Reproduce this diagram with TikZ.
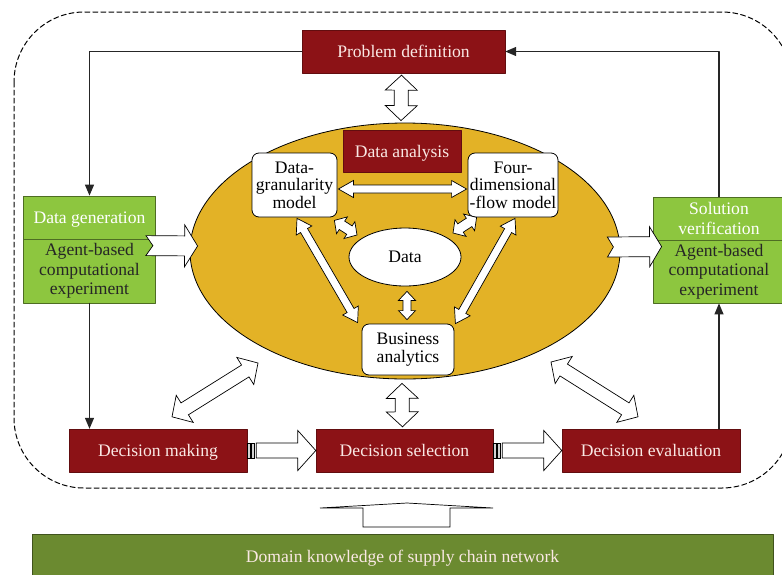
\documentclass[tikz,border=0pt]{standalone}
\usepackage{fontspec}
\setmainfont{Liberation Serif}
\usetikzlibrary{arrows.meta,calc,shapes.geometric}

\definecolor{darkred}{RGB}{140,18,22}
\definecolor{leafgreen}{RGB}{141,198,63}
\definecolor{gold}{RGB}{227,178,38}
\definecolor{olive}{RGB}{107,138,48}
\definecolor{paletext}{RGB}{250,232,228}

% #1 half shaft, #2 half head, #3 head length, #4 from, #5 to
\newcommand{\dblarrow}[5]{%
  \draw[blockarrow] let \p1=(#4), \p2=(#5), \n1={atan2(\y2-\y1,\x2-\x1)}, \n2={veclen(\x2-\x1,\y2-\y1)} in
    [shift={(\p1)}, rotate=\n1] (0,0) -- (#3,#2) -- (#3,#1) -- (\n2-#3,#1) -- (\n2-#3,#2) -- (\n2,0)
    -- (\n2-#3,-#2) -- (\n2-#3,-#1) -- (#3,-#1) -- (#3,-#2) -- cycle;}
% #1 half shaft, #2 half head, #3 head length, #4 notch, #5 from, #6 to
\newcommand{\notcharrow}[6]{%
  \draw[blockarrow] let \p1=(#5), \p2=(#6), \n1={atan2(\y2-\y1,\x2-\x1)}, \n2={veclen(\x2-\x1,\y2-\y1)} in
    [shift={(\p1)}, rotate=\n1] (0,#1) -- (\n2-#3,#1) -- (\n2-#3,#2) -- (\n2,0) -- (\n2-#3,-#2)
    -- (\n2-#3,-#1) -- (0,-#1) -- (#4,0) -- cycle;}
% striped tail arrow
\newcommand{\stripearrow}[2]{%
  \draw[blockarrow] let \p1=(#1), \p2=(#2), \n1={atan2(\y2-\y1,\x2-\x1)}, \n2={veclen(\x2-\x1,\y2-\y1)} in
    [shift={(\p1)}, rotate=\n1] (9,7.5) -- (\n2-18,7.5) -- (\n2-18,20) -- (\n2,0) -- (\n2-18,-20)
    -- (\n2-18,-7.5) -- (9,-7.5) -- cycle;
  \draw[blockarrow, fill=gray!35] let \p1=(#1), \p2=(#2), \n1={atan2(\y2-\y1,\x2-\x1)} in
    [shift={(\p1)}, rotate=\n1] (0,-7.5) rectangle (3,7.5) (4.5,-7.5) rectangle (7.5,7.5);}

\begin{document}
\begin{tikzpicture}[line cap=round,line join=round,>={Triangle[length=11pt,width=9pt]},x=1pt,y=-1pt,
  every node/.style={font=\fontsize{17.6}{19.5}\selectfont, inner sep=0pt},
  redbox/.style={fill=darkred, draw=darkred!70!black, text=paletext, minimum height=43,
    text height=14pt, text depth=2pt},
  greenbox/.style={fill=leafgreen, draw=leafgreen!55!black, line width=0.8pt, align=center, minimum width=132},
  whitebox/.style={fill=white, draw=black, rounded corners=7pt, align=center, line width=0.8pt,
    font=\fontsize{17.6}{17.5}\selectfont},
  blockarrow/.style={draw=black, fill=white, line width=0.7pt, line join=miter},
  link/.style={->, line width=1.2pt, draw=black!85}]
  \useasboundingbox (0,0) rectangle (782,574);
  \draw[dash pattern=on 5pt off 3pt, line width=1pt, rounded corners=70pt] (14,12) rectangle (792,488);

  \node[draw, ellipse, fill=gold, line width=0.8pt, minimum width=430, minimum height=256] (ell) at (405,251) {};

  \node[redbox, minimum width=203] (prob) at (403.5,51.5) {Problem definition};
  \node[redbox, minimum width=118, minimum height=42] (anal) at (402,151) {Data analysis};
  \node[whitebox, minimum width=85, minimum height=64] (gran) at (294.5,185) {Data-\\granularity\\model};
  \node[whitebox, minimum width=90, minimum height=64] (four) at (513,185) {Four-\\dimensional\\-flow model};
  \node[draw, ellipse, fill=white, line width=0.8pt, minimum width=112, minimum height=58] (data) at (405,257) {Data};
  \node[whitebox, minimum width=92, minimum height=51] (busi) at (408,349.5) {Business\\analytics};

  \node[greenbox, minimum height=43, text=white, text height=14pt, text depth=2pt] (gen) at (89.5,217.5) {Data generation};
  \node[greenbox, minimum height=64, text=black!85] (genexp) at (89.5,271) {Agent-based\\computational\\experiment};
  \node[greenbox, minimum height=43, text=white] (sol) at (719,218.5) {Solution\\verification};
  \node[greenbox, minimum height=63, text=black!85] (solexp) at (719,271.5) {Agent-based\\computational\\experiment};

  \node[redbox, minimum width=178] (decmake) at (158,450.5) {Decision making};
  \node[redbox, minimum width=177] (decsel) at (404.5,450.5) {Decision selection};
  \node[redbox, minimum width=178] (deceval) at (651,450.5) {Decision evaluation};

  \node[fill=olive, draw=olive!60!black, line width=0.8pt, text=paletext, minimum width=741, minimum height=48] (dom) at (402.5,558) {Domain knowledge of supply chain network};

  \draw[link] (prob.west) -| (gen.north);
  \draw[link] (genexp.south) -- (genexp.south |- decmake.north);
  \draw[link] (solexp.south |- deceval.north) -- (solexp.south);
  \draw[link] (sol.north) |- (prob.east);

  \dblarrow{7}{16}{15}{$(prob.south)+(-2,2)$}{$(ell.north)+(-4,-2)$}
  \dblarrow{7}{16}{15}{$(ell.south)+(-3,4)$}{$(decsel.north)+(-2,-2)$}
  \dblarrow{7}{16}{15}{$(decmake.north)+(14,-12)$}{$(ell.center)+(-147,112)$}
  \dblarrow{7}{16}{15}{$(deceval.north)+(-13,-12)$}{$(ell.center)+(146,111)$}
  \dblarrow{4}{8.5}{15}{$(gran.east)+(1,4)$}{$(four.west)+(-1,4)$}
  \dblarrow{5}{10}{9}{$(gran.south east)+(-3,3)$}{$(data.center)+(-48,-22)$}
  \dblarrow{5}{10}{9}{$(four.south west)+(9,0)$}{$(data.center)+(48,-24)$}
  \dblarrow{4}{9}{14}{$(gran.south)+(2.5,1)$}{$(busi.north west)+(-4,-1)$}
  \dblarrow{4}{9}{14}{$(four.south)+(2,1)$}{$(busi.north east)+(1,0)$}
  \dblarrow{4}{8.5}{9}{$(data.south)+(2,5)$}{$(busi.north)+(-1,-4)$}

  \notcharrow{10}{21}{13}{7}{$(genexp.north east)+(-10,7)$}{$(ell.west)+(8,-5)$}
  \notcharrow{10}{20}{12}{6}{$(ell.east)+(-13,-4)$}{$(solexp.north west)+(9,7)$}
  \stripearrow{decmake.east}{decsel.west}
  \stripearrow{decsel.east}{deceval.west}

  \draw[blockarrow] (363,527) -- (363,508) -- (320,508) -- (407,503) -- (493,508) -- (450,508) -- (450,527) -- cycle;
\end{tikzpicture}
\end{document}
